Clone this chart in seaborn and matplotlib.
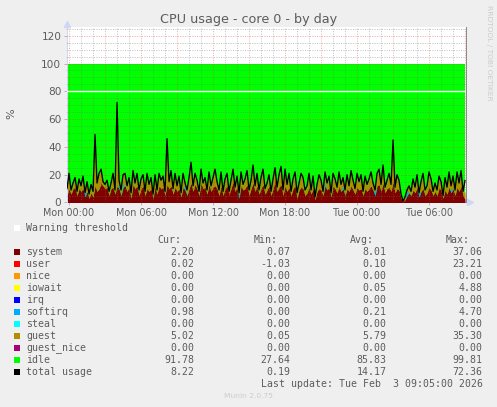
"""CPU usage per core, munin style day graph."""

import matplotlib

matplotlib.use("Agg")

import matplotlib.pyplot as plt
import numpy as np
import pandas as pd
import seaborn as sns
from matplotlib.patches import Rectangle
from matplotlib.ticker import FixedLocator, MultipleLocator

# one sample every 10 minutes, starting just before Mon 00:00
total_usage = [
    10, 21, 9, 14, 18, 8, 17, 12, 19, 7,
    15, 6, 13, 8, 49, 14, 21, 24, 15, 13,
    16, 8, 14, 21, 9, 72, 16, 9, 20, 21,
    12, 18, 7, 23, 14, 21, 9, 17, 20, 8,
    21, 13, 18, 6, 20, 9, 21, 16, 19, 8,
    46, 15, 23, 10, 21, 12, 19, 7, 21, 14,
    9, 18, 29, 12, 21, 16, 8, 24, 14, 18,
    9, 22, 12, 18, 24, 15, 9, 22, 8, 17,
    21, 8, 16, 24, 11, 19, 7, 22, 13, 17,
    23, 9, 16, 27, 12, 21, 9, 18, 24, 10,
    14, 20, 8, 17, 25, 11, 20, 26, 9, 24,
    13, 21, 8, 17, 22, 7, 14, 21, 18, 9,
    12, 21, 9, 19, 4, 13, 20, 16, 8, 22,
    14, 19, 7, 21, 17, 11, 22, 13, 18, 9,
    20, 12, 23, 16, 10, 21, 15, 20, 8, 19,
    13, 17, 22, 14, 9, 21, 24, 13, 27, 11,
    16, 21, 13, 45, 11, 20, 16, 6, 1, 4,
    9, 12, 8, 17, 11, 20, 7, 15, 21, 9,
    12, 22, 17, 8, 14, 9, 19, 15, 5, 18,
    11, 22, 12, 19, 9, 22, 14, 23, 8, 16,
]
system_usage = [
    5, 10, 6, 10, 11, 5, 10, 8, 10, 4,
    8, 3, 7, 4, 12, 8, 10, 13, 12, 10,
    11, 5, 10, 11, 6, 12, 10, 5, 11, 12,
    8, 11, 3, 13, 10, 12, 5, 10, 12, 5,
    10, 8, 10, 3, 11, 6, 12, 10, 11, 5,
    13, 10, 12, 6, 11, 8, 10, 4, 11, 9,
    5, 10, 14, 8, 13, 10, 5, 14, 10, 11,
    6, 13, 8, 11, 12, 10, 5, 12, 5, 10,
    12, 5, 10, 15, 8, 11, 3, 12, 9, 10,
    13, 5, 10, 14, 8, 12, 6, 10, 13, 6,
    9, 12, 5, 10, 14, 8, 11, 13, 5, 12,
    8, 11, 5, 10, 12, 3, 9, 11, 10, 5,
    7, 11, 6, 10, 2, 8, 10, 9, 5, 12,
    9, 11, 4, 12, 10, 7, 11, 8, 10, 5,
    10, 8, 12, 9, 6, 11, 9, 10, 5, 10,
    8, 10, 12, 9, 5, 12, 13, 8, 14, 7,
    10, 11, 8, 15, 7, 10, 9, 3, 0.5, 2,
    5, 7, 5, 9, 7, 11, 4, 8, 10, 5,
    7, 11, 9, 5, 8, 5, 10, 9, 3, 9,
    6, 11, 7, 10, 5, 11, 8, 12, 5, 2.2,
]
guest_usage = [
    4, 10, 2, 3, 6, 2, 6, 3, 8, 2,
    6, 2, 5, 3, 35, 5, 10, 10, 2, 2,
    4, 2, 3, 9, 2, 35, 5, 3, 8, 8,
    3, 6, 3, 9, 3, 8, 3, 6, 7, 2,
    10, 4, 7, 2, 8, 2, 8, 5, 7, 2,
    30, 4, 10, 3, 9, 3, 8, 2, 9, 4,
    3, 7, 14, 3, 7, 5, 2, 9, 3, 6,
    2, 8, 3, 6, 11, 4, 3, 9, 2, 6,
    8, 2, 5, 8, 2, 7, 3, 9, 3, 6,
    9, 3, 5, 12, 3, 8, 2, 7, 10, 3,
    4, 7, 2, 6, 10, 2, 8, 12, 3, 11,
    4, 9, 2, 6, 9, 3, 4, 9, 7, 3,
    4, 9, 2, 8, 1.5, 4, 9, 6, 2, 9,
    4, 7, 2, 8, 6, 3, 10, 4, 7, 3,
    9, 3, 10, 6, 3, 9, 5, 9, 2, 8,
    4, 6, 9, 4, 3, 8, 10, 4, 12, 3,
    5, 9, 4, 29, 3, 9, 6, 2, 0.4, 1.5,
    3, 4, 2, 7, 3, 8, 2, 6, 10, 3,
    4, 10, 7, 2, 5, 3, 8, 5, 1.5, 8,
    4, 10, 4, 8, 3, 10, 5, 10, 2, 5,
]
# mostly zero series, only the samples where they show up
softirq_samples = [9, 26, 28, 59, 86, 129, 138, 154, 170, 176, 192]
softirq_values = [2.5, 2, 3, 2.5, 2, 3, 2.5, 3, 4, 3, 2]
user_samples = [17, 44, 81, 104, 136, 168, 186]
user_values = [1.5, 1, 2, 2.5, 1, 1.5, 1]

warning_level = 80
idle_ceiling = 100

tick_hours = [0, 6, 12, 18, 24, 30]
tick_labels = ["Mon 00:00", "Mon 06:00", "Mon 12:00", "Mon 18:00", "Tue 00:00", "Tue 06:00"]

row_names = ["system", "user", "nice", "iowait", "irq", "softirq", "steal",
             "guest", "guest_nice", "idle", "total usage"]
row_colors = ["#7f0000", "#ff0000", "#ff9900", "#ffff00", "#0000ff", "#00aaff",
              "#00ffff", "#b09000", "#aa0077", "#00ff00", "#000000"]
cur_values = ["2.20", "0.02", "0.00", "0.00", "0.00", "0.98", "0.00", "5.02", "0.00", "91.78", "8.22"]
min_values = ["0.07", "-1.03", "0.00", "0.00", "0.00", "0.00", "0.00", "0.05", "0.00", "27.64", "0.19"]
avg_values = ["8.01", "0.10", "0.00", "0.05", "0.00", "0.21", "0.00", "5.79", "0.00", "85.83", "14.17"]
max_values = ["37.06", "23.21", "0.00", "4.88", "0.00", "4.70", "0.00", "35.30", "0.00", "99.81", "72.36"]

W, H = 497, 407
TEXT = "#5c5c5c"
MONO = "DejaVu Sans Mono"
ONE_PX = 0.72

sns.set_theme(style="ticks")
plt.rcParams["font.family"] = ["DejaVu Sans"]

df = pd.DataFrame({
    "sample": np.arange(len(total_usage)),
    "total": total_usage,
    "system": system_usage,
    "guest": guest_usage,
})
df["hour"] = (df["sample"] * 2 - 2) / 12
df["user"] = 0.0
df["softirq"] = 0.0
df.loc[user_samples, "user"] = user_values
df.loc[softirq_samples, "softirq"] = softirq_values

fig = plt.figure(figsize=(W / 100, H / 100), dpi=100, facecolor="#efefef")
ax = fig.add_axes([67 / W, 1 - 202.5 / H, 399 / W, 175.5 / H], facecolor="white")

# idle is what is left up to 100, so paint it first and stack the rest over it
ax.fill_between(df["hour"], 0, idle_ceiling, color="#00ff00", lw=0, zorder=1)
ax.stackplot(
    df["hour"], df["system"], df["user"], df["softirq"], df["guest"],
    colors=["#7f0000", "#ff0000", "#00aaff", "#b09000"], lw=0, zorder=1.2,
)
sns.lineplot(data=df, x="hour", y="total", color="black", lw=0.95, errorbar=None,
             ax=ax, zorder=3)

ax.set_xlim(-0.17, 33.08)
ax.set_ylim(0, 126.3)
ax.set_xlabel("")
ax.set_ylabel("")

ax.xaxis.set_major_locator(FixedLocator(tick_hours))
ax.set_xticklabels(tick_labels)
ax.xaxis.set_minor_locator(MultipleLocator(1))
ax.yaxis.set_major_locator(MultipleLocator(20))
ax.yaxis.set_minor_locator(MultipleLocator(5))
ax.tick_params(axis="x", which="major", labelsize=6.9, pad=2)
ax.tick_params(axis="y", which="major", labelsize=7.6, pad=2)
ax.tick_params(axis="both", which="major", labelcolor=TEXT, color="#aaaaaa",
               length=2, width=0.6)
ax.tick_params(axis="both", which="minor", color="#cccccc", length=1, width=0.5)

# rrdtool draws its grid over the areas, red lines replace the grey ones
dots = (0, (1, 1.4))
for h in np.arange(0, 34):
    color = "#d84040" if h % 3 == 0 else "#707070"
    ax.axvline(h, color=color, ls=dots, lw=ONE_PX, alpha=0.42, zorder=2.6)
for v in np.arange(0, 126, 5):
    color = "#d84040" if v % 20 == 0 else "#707070"
    ax.axhline(v, color=color, ls=dots, lw=ONE_PX, alpha=0.42, zorder=2.6)
ax.axhline(warning_level, color="white", lw=1.0, zorder=3)

for side in ("top", "bottom"):
    ax.spines[side].set_visible(False)
ax.spines["left"].set_color("#d0d8f4")
ax.spines["left"].set_linewidth(ONE_PX)
ax.spines["right"].set_color("#8a8a8a")
ax.spines["right"].set_linewidth(ONE_PX)

# axis arrows
ax.plot([0], [1.015], marker="^", ms=4, color="#cdd6f7", transform=ax.transAxes, clip_on=False)
ax.plot([1.01], [0], marker=">", ms=4, color="#cdd6f7", transform=ax.transAxes, clip_on=False)


def fig_text(x, y, s, **kwargs):
    """Place text using pixel positions of the output image."""
    kwargs.setdefault("color", TEXT)
    kwargs.setdefault("va", "center")
    fig.text(x / W, 1 - y / H, s, **kwargs)


def swatch(y, color):
    fig.add_artist(Rectangle((14 / W, 1 - (y + 3) / H), 6 / W, 6 / H, color=color,
                             lw=0, transform=fig.transFigure))


fig_text(248.5, 19, "CPU usage - core 0 - by day", fontsize=9.2, ha="center")
fig_text(11, 114, "%", fontsize=8, rotation=90, ha="center")
fig_text(489, 53, "RRDTOOL / TOBI OETIKER", fontsize=5.4, color="#cccccc",
         rotation=270, ha="center")

LEGEND = dict(fontsize=7.15, family=MONO)
swatch(227.7, "white")
fig_text(26, 227.7, "Warning threshold", **LEGEND)
for x, head in zip([181.7, 278, 374, 470], ["Cur:", "Min:", "Avg:", "Max:"]):
    fig_text(x, 240, head, ha="right", **LEGEND)
for i, name in enumerate(row_names):
    y = 252 + i * 12
    swatch(y, row_colors[i])
    fig_text(26, y, name, **LEGEND)
    fig_text(194, y, cur_values[i], ha="right", **LEGEND)
    fig_text(290.3, y, min_values[i], ha="right", **LEGEND)
    fig_text(386.7, y, avg_values[i], ha="right", **LEGEND)
    fig_text(482.7, y, max_values[i], ha="right", **LEGEND)
fig_text(482.7, 383.7, "Last update: Tue Feb  3 09:05:00 2026", ha="right", **LEGEND)
fig_text(248, 396, "Munin 2.0.75", fontsize=5.4, color="#cccccc", ha="center")

fig.savefig("out.png", dpi=100, facecolor=fig.get_facecolor())
